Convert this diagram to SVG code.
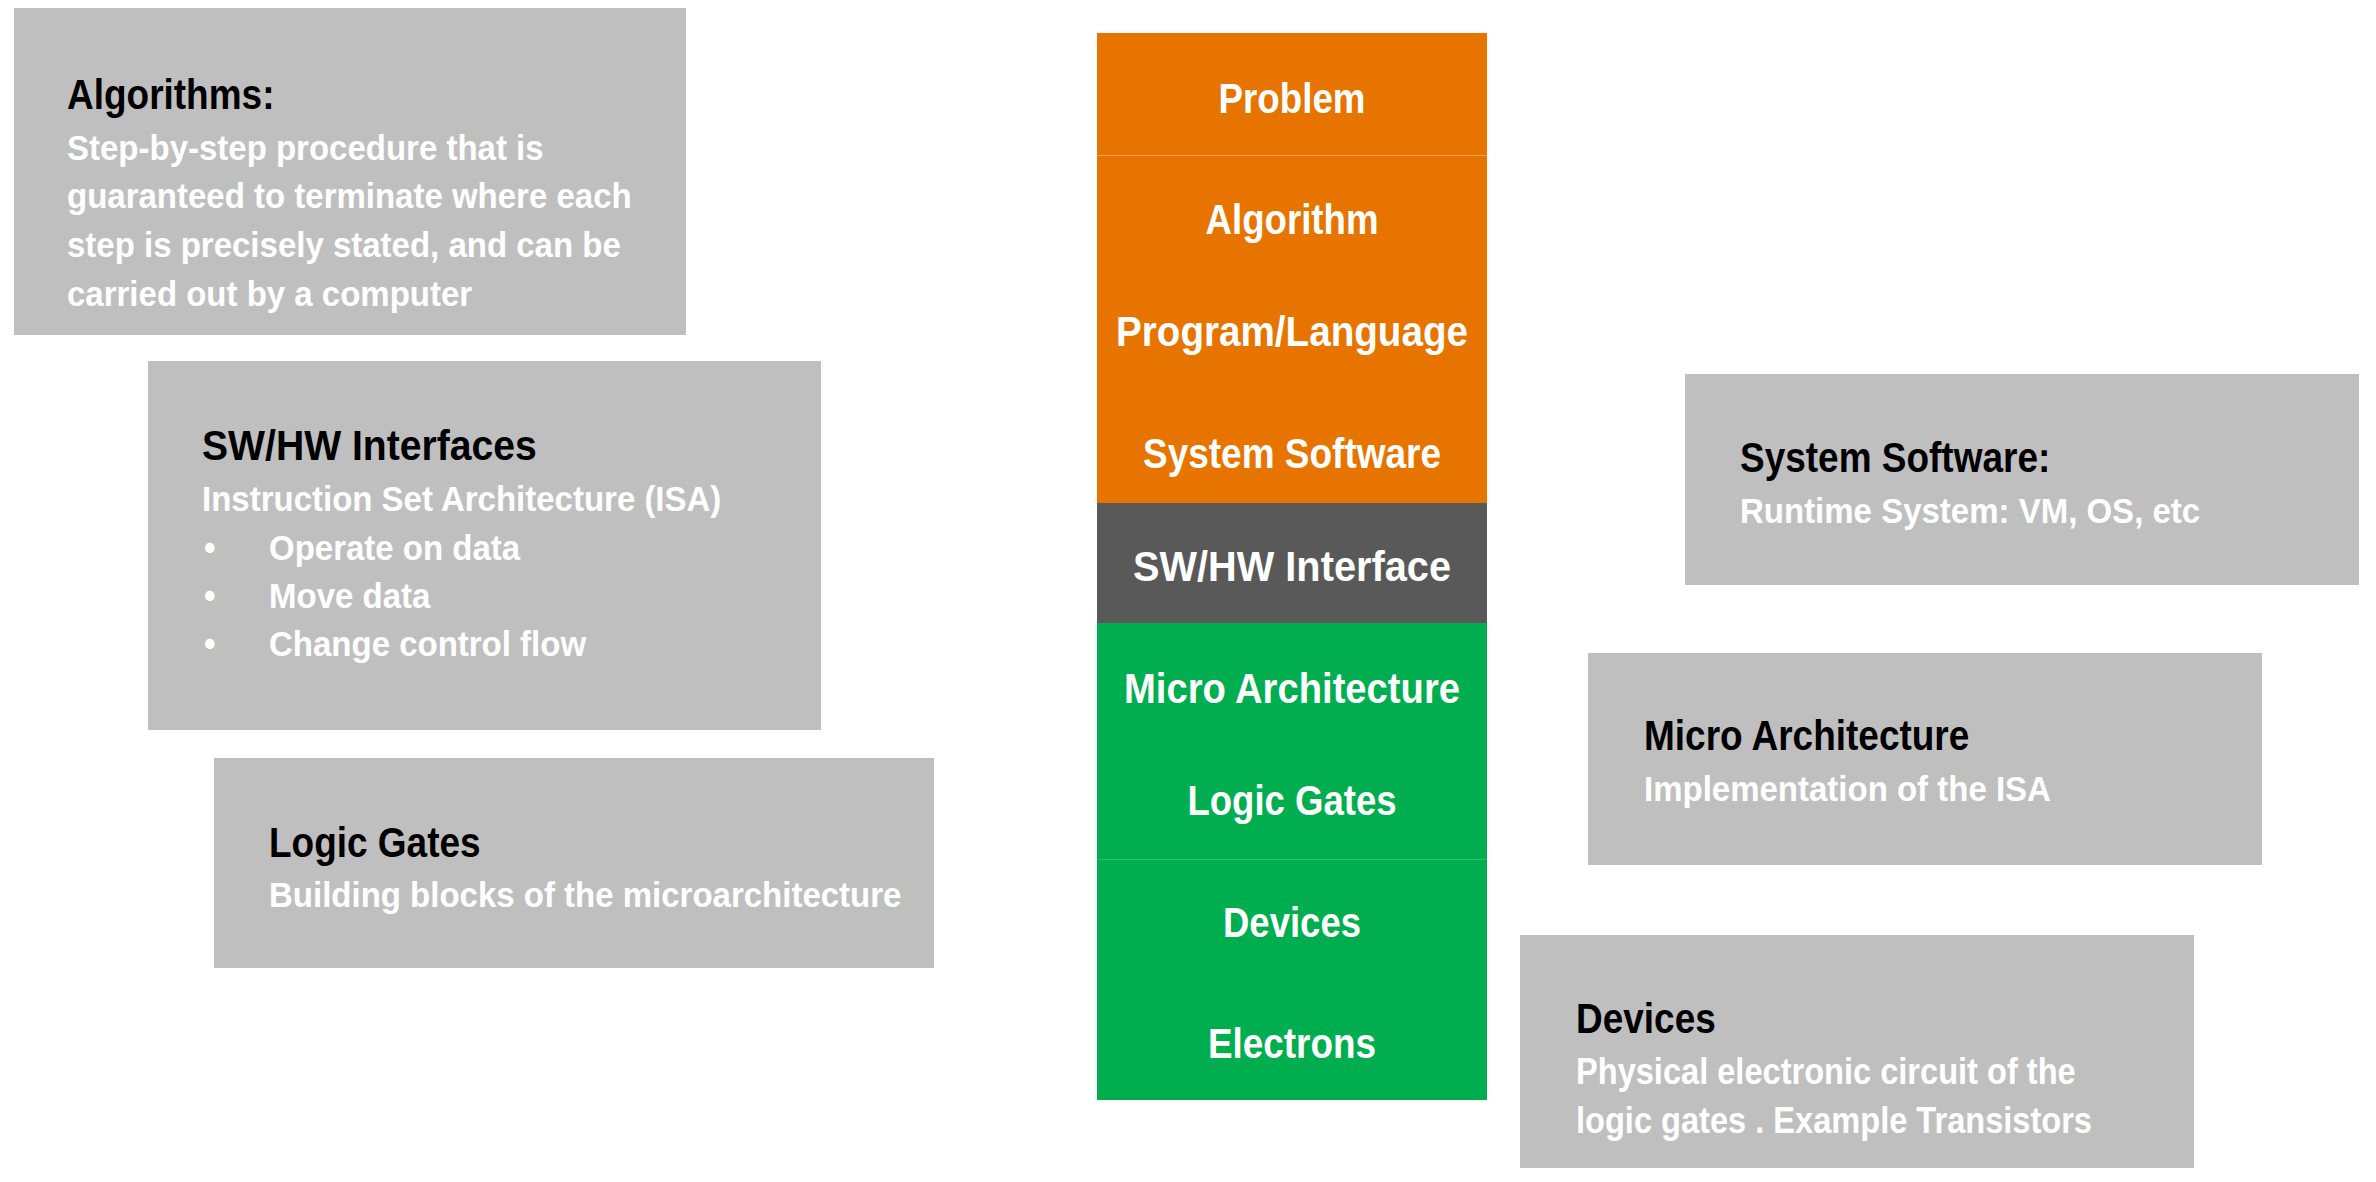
<svg xmlns="http://www.w3.org/2000/svg" width="2376" height="1182" viewBox="0 0 2376 1182">
<style>
.box{fill:#BFBFBF}
.t{font-family:"Liberation Sans",Arial,sans-serif;font-weight:bold;font-size:43px;fill:#000}
.b{font-family:"Liberation Sans",Arial,sans-serif;font-weight:bold;font-size:36px;fill:#FFFFFF}
.s{font-family:"Liberation Sans",Arial,sans-serif;font-weight:bold;font-size:43px;fill:#FFFFFF;text-anchor:middle}
.or{fill:#E87400}
.dk{fill:#595959}
.gr{fill:#00AE50}
</style>
<rect width="2376" height="1182" fill="#FFFFFF"/>
<g id="stack" shape-rendering="crispEdges">
  <g id="problem"><rect class="or" x="1097" y="33" width="390" height="122"/><text class="s" x="1292" y="113" textLength="147" lengthAdjust="spacingAndGlyphs">Problem</text></g>
  <g id="algorithm"><rect class="or" x="1097" y="155" width="390" height="118"/><text class="s" x="1292" y="234" textLength="173" lengthAdjust="spacingAndGlyphs">Algorithm</text></g>
  <g id="program"><rect class="or" x="1097" y="273" width="390" height="117"/><text class="s" x="1292" y="346" textLength="352" lengthAdjust="spacingAndGlyphs">Program/Language</text></g>
  <g id="syssw"><rect class="or" x="1097" y="390" width="390" height="113"/><text class="s" x="1292" y="468" textLength="298" lengthAdjust="spacingAndGlyphs">System Software</text></g>
  <g id="swhw"><rect class="dk" x="1097" y="503" width="390" height="120"/><text class="s" x="1292" y="581" textLength="318" lengthAdjust="spacingAndGlyphs">SW/HW Interface</text></g>
  <g id="microarch"><rect class="gr" x="1097" y="623" width="390" height="120"/><text class="s" x="1292" y="703" textLength="336" lengthAdjust="spacingAndGlyphs">Micro Architecture</text></g>
  <g id="logic"><rect class="gr" x="1097" y="743" width="390" height="116"/><text class="s" x="1292" y="815" textLength="209" lengthAdjust="spacingAndGlyphs">Logic Gates</text></g>
  <g id="devices"><rect class="gr" x="1097" y="859" width="390" height="121"/><text class="s" x="1292" y="937" textLength="138" lengthAdjust="spacingAndGlyphs">Devices</text></g>
  <g id="electrons"><rect class="gr" x="1097" y="980" width="390" height="120"/><text class="s" x="1292" y="1058" textLength="168" lengthAdjust="spacingAndGlyphs">Electrons</text></g>
  <line x1="1097" y1="155" x2="1487" y2="155" stroke="#F0A060" stroke-width="1"/>
  <line x1="1097" y1="859" x2="1487" y2="859" stroke="#33BE73" stroke-width="1"/>
</g>
<g id="algorithms-box">
  <rect class="box" x="14" y="8" width="672" height="327"/>
  <text class="t" transform="translate(67,109) scale(0.86,1)">Algorithms:</text>
  <text class="b" transform="translate(67,160) scale(0.917,1)">Step-by-step procedure that is</text>
  <text class="b" transform="translate(67,208) scale(0.917,1)">guaranteed to terminate where each</text>
  <text class="b" transform="translate(67,257) scale(0.917,1)">step is precisely stated, and can be</text>
  <text class="b" transform="translate(67,306) scale(0.917,1)">carried out by a computer</text>
</g>
<g id="swhw-box">
  <rect class="box" x="148" y="361" width="673" height="369"/>
  <text class="t" transform="translate(202,460) scale(0.91,1)">SW/HW Interfaces</text>
  <text class="b" transform="translate(202,511) scale(0.917,1)">Instruction Set Architecture (ISA)</text>
  <text class="b" transform="translate(204,560) scale(0.917,1)">•</text><text class="b" transform="translate(269,560) scale(0.917,1)">Operate on data</text>
  <text class="b" transform="translate(204,608) scale(0.917,1)">•</text><text class="b" transform="translate(269,608) scale(0.917,1)">Move data</text>
  <text class="b" transform="translate(204,656) scale(0.917,1)">•</text><text class="b" transform="translate(269,656) scale(0.917,1)">Change control flow</text>
</g>
<g id="logic-box">
  <rect class="box" x="214" y="758" width="720" height="210"/>
  <text class="t" transform="translate(269,857) scale(0.86,1)">Logic Gates</text>
  <text class="b" transform="translate(269,907) scale(0.917,1)">Building blocks of the microarchitecture</text>
</g>
<g id="syssw-box">
  <rect class="box" x="1685" y="374" width="674" height="211"/>
  <text class="t" transform="translate(1740,472) scale(0.86,1)">System Software:</text>
  <text class="b" transform="translate(1740,523) scale(0.917,1)">Runtime System: VM, OS, etc</text>
</g>
<g id="microarch-box">
  <rect class="box" x="1588" y="653" width="674" height="212"/>
  <text class="t" transform="translate(1644,750) scale(0.86,1)">Micro Architecture</text>
  <text class="b" transform="translate(1644,801) scale(0.917,1)">Implementation of the ISA</text>
</g>
<g id="devices-box">
  <rect class="box" x="1520" y="935" width="674" height="233"/>
  <text class="t" transform="translate(1576,1033) scale(0.86,1)">Devices</text>
  <text class="b" transform="translate(1576,1084) scale(0.905,1)">Physical electronic circuit of the</text>
  <text class="b" transform="translate(1576,1133) scale(0.905,1)">logic gates . Example Transistors</text>
</g>
<g id="connectors"></g>
</svg>
